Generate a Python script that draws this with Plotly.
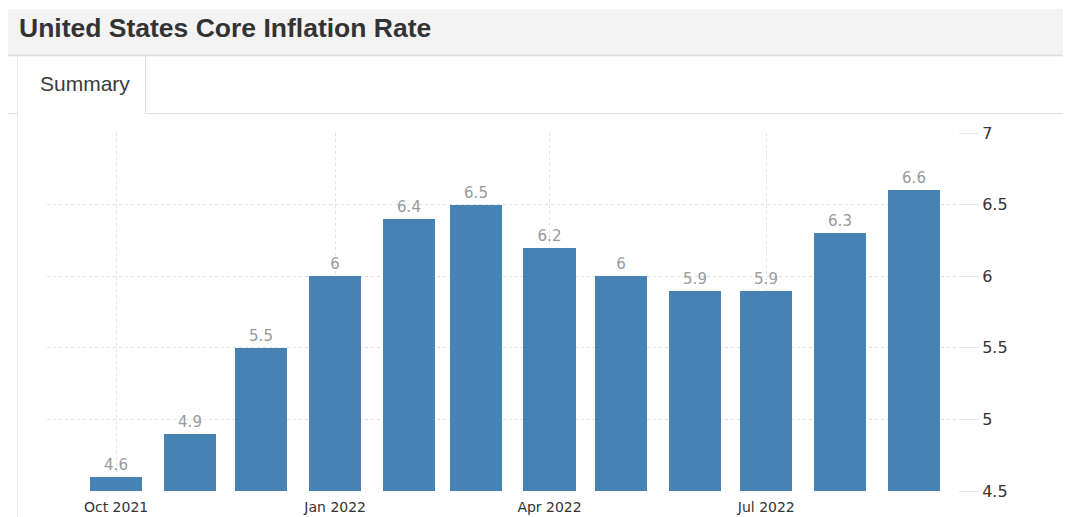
import plotly.graph_objects as go

# ---- data ----
months = ["2021-10-01", "2021-11-01", "2021-12-01", "2022-01-01", "2022-02-01", "2022-03-01",
          "2022-04-01", "2022-05-01", "2022-06-01", "2022-07-01", "2022-08-01", "2022-09-01"]
core_inflation = [4.6, 4.9, 5.5, 6.0, 6.4, 6.5, 6.2, 6.0, 5.9, 5.9, 6.3, 6.6]
value_labels = ["4.6", "4.9", "5.5", "6", "6.4", "6.5", "6.2", "6", "5.9", "5.9", "6.3", "6.6"]
x_tickvals = ["2021-10-01", "2022-01-01", "2022-04-01", "2022-07-01"]
x_ticktext = ["Oct 2021", "Jan 2022", "Apr 2022", "Jul 2022"]
y_tickvals = [4.5, 5, 5.5, 6, 6.5, 7]
y_ticktext = ["4.5", "5", "5.5", "6", "6.5", "7"]
title_text = "United States Core Inflation Rate"
tab_text = "Summary"

# ---- layout geometry (page pixels); the page body has an 8px margin ----
FW, FH = 1071, 517
OFF = 8
L, R, T, B = 47, 958, 133, 491
PW, PH = R - L, B - T


def px(x):
    return (x - L) / PW


def py(y):
    return (B - y) / PH


DAY_MS = 86400000

fig = go.Figure()
fig.add_trace(go.Bar(
    x=months, y=core_inflation,
    width=[21.9 * DAY_MS] * len(months),
    marker=dict(color="#4682B4", line=dict(width=0)),
    text=value_labels, textposition="outside", cliponaxis=False,
    textfont=dict(family="DejaVu Sans", size=15, color="#999999"),
    hoverinfo="x+y",
))

shapes = [
    # header band
    dict(type="rect", xref="paper", yref="paper", x0=px(8), x1=px(FW), y0=py(55), y1=py(9),
         fillcolor="#f3f3f3", line=dict(width=0), layer="below"),
    dict(type="line", xref="paper", yref="paper", x0=px(8), x1=px(FW), y0=py(55.5), y1=py(55.5),
         line=dict(color="#dcdcdc", width=1.5)),
    # tab bottom border
    dict(type="line", xref="paper", yref="paper", x0=px(8), x1=px(17.5), y0=py(113.5), y1=py(113.5),
         line=dict(color="#dcdcdc", width=1)),
    dict(type="line", xref="paper", yref="paper", x0=px(145.5), x1=px(FW), y0=py(113.5), y1=py(113.5),
         line=dict(color="#dcdcdc", width=1)),
    # tab side borders
    dict(type="line", xref="paper", yref="paper", x0=px(17.5), x1=px(17.5), y0=py(56), y1=py(FH),
         line=dict(color="#ececec", width=1)),
    dict(type="line", xref="paper", yref="paper", x0=px(145.5), x1=px(145.5), y0=py(56), y1=py(113.5),
         line=dict(color="#dcdcdc", width=1)),
]

annotations = [
    dict(text="<b>" + title_text + "</b>", xref="paper", yref="paper", x=px(17), y=py(28),
         xanchor="left", yanchor="middle", showarrow=False,
         font=dict(family="Liberation Sans", size=26.5, color="#333333")),
    dict(text=tab_text, xref="paper", yref="paper", x=px(38), y=py(84),
         xanchor="left", yanchor="middle", showarrow=False,
         font=dict(family="Liberation Sans", size=21, color="#3a3a3a")),
]

fig.update_layout(
    width=FW - OFF, height=FH - OFF,
    margin=dict(l=L - OFF, r=FW - R, t=T - OFF, b=FH - B, pad=0),
    paper_bgcolor="white", plot_bgcolor="white",
    showlegend=False,
    shapes=shapes, annotations=annotations,
    bargap=0,
    xaxis=dict(
        type="date", range=["2021-09-02", "2022-09-19 12:00"],
        tickvals=x_tickvals, ticktext=x_ticktext,
        showgrid=True, gridcolor="#e2e2e2", griddash="dot", gridwidth=1,
        zeroline=False, showline=False, ticks="", ticklabelstandoff=6,
        tickfont=dict(family="DejaVu Sans", size=14, color="#333333"),
        fixedrange=True, automargin=False,
    ),
    yaxis=dict(
        side="right", range=[4.5, 7],
        tickvals=y_tickvals, ticktext=y_ticktext,
        showgrid=True, gridcolor="#dddddd", griddash="dot", gridwidth=1,
        zeroline=False, showline=False,
        ticks="outside", ticklen=20, tickcolor="#e6e6e6", tickwidth=1,
        tickfont=dict(family="DejaVu Sans", size=16, color="#333333"),
        fixedrange=True, automargin=False,
    ),
)

fig.write_html("out.html")
